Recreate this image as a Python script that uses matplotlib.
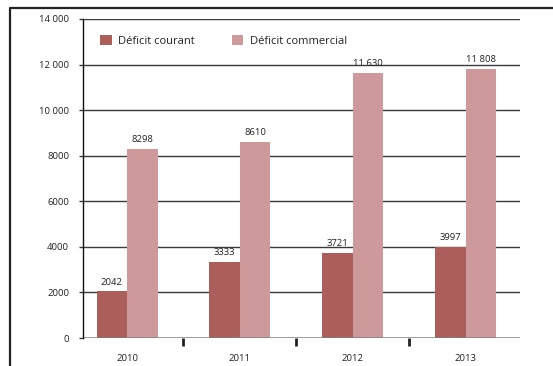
import matplotlib
matplotlib.use("Agg")
import matplotlib.pyplot as plt
from matplotlib.lines import Line2D

years = ["2010", "2011", "2012", "2013"]
deficit_courant = [2042, 3333, 3721, 3997]
deficit_commercial = [8298, 8610, 11630, 11808]
series_names = ["Déficit courant", "Déficit commercial"]
y_ticks = [0, 2000, 4000, 6000, 8000, 10000, 12000, 14000]
y_tick_labels = ["0", "2000", "4000", "6000", "8000", "10 000", "12 000", "14 000"]

COL_COURANT = "#AC5E5A"
COL_COMMERCIAL = "#CD999A"


def fmt(v):
    # thousands separated by a space only from five digits on
    return f"{v:,}".replace(",", " ") if v >= 10000 else str(v)


plt.rcParams["font.family"] = ["Open Sans", "DejaVu Sans"]

W, H = 553, 366
fig = plt.figure(figsize=(W / 100, H / 100), dpi=100)
ax = fig.add_axes([83 / W, 28 / H, 437 / W, 319 / H])

x = list(range(len(years)))
w = 0.27
xc = [i - w / 2 for i in x]
xm = [i + w / 2 for i in x]

# horizontal grid
for t in y_ticks[1:]:
    ax.axhline(t, color="#3a3a3a", lw=1.0, zorder=1)
ax.axhline(0, color="#808080", lw=1.8, zorder=4)

b1 = ax.bar(xc, deficit_courant, width=w, color=COL_COURANT, zorder=3,
            label=series_names[0])
b2 = ax.bar(xm, deficit_commercial, width=w, color=COL_COMMERCIAL, zorder=3,
            label=series_names[1])

for xs, vals in ((xc, deficit_courant), (xm, deficit_commercial)):
    for xi, v in zip(xs, vals):
        ax.annotate(fmt(v), (xi, v), xytext=(0, 3.5), textcoords="offset points",
                    ha="center", va="bottom", fontsize=6.8, color="#222222")

ax.set_xlim(-0.39, 3.48)
ax.set_ylim(0, 14000)

ax.set_yticks(y_ticks)
ax.set_yticklabels(y_tick_labels)
ax.tick_params(axis="y", length=3, width=1, color="#3a3a3a", pad=7,
               labelsize=6.8, labelcolor="#222222")

ax.set_xticks(x)
ax.set_xticklabels(years)
ax.tick_params(axis="x", which="major", length=0, pad=11.5, labelsize=6.8,
               labelcolor="#222222")
ax.set_xticks([0.5, 1.5, 2.5], minor=True)
ax.tick_params(axis="x", which="minor", length=6, width=2, color="#222222",
               direction="out")

for s in ("top", "right", "bottom"):
    ax.spines[s].set_visible(False)
ax.spines["left"].set_color("#111111")
ax.spines["left"].set_linewidth(1.0)
ax.spines["left"].set_zorder(5)

leg = ax.legend(loc="upper left", bbox_to_anchor=(100 / W, 1 - 35 / H),
                bbox_transform=fig.transFigure, ncol=2, frameon=False,
                fontsize=8.0, handlelength=1.05, handleheight=1.05,
                handletextpad=0.6, columnspacing=3.3, borderpad=0,
                borderaxespad=0)
for t in leg.get_texts():
    t.set_color("#222222")

# outer frame (left and top edges)
fx = 10 / W
fy = 1 - 8 / H
fig.add_artist(Line2D([fx, fx, 1], [0, fy, fy], transform=fig.transFigure,
                      color="#222222", lw=1.6))

fig.savefig("out.png", dpi=100)
